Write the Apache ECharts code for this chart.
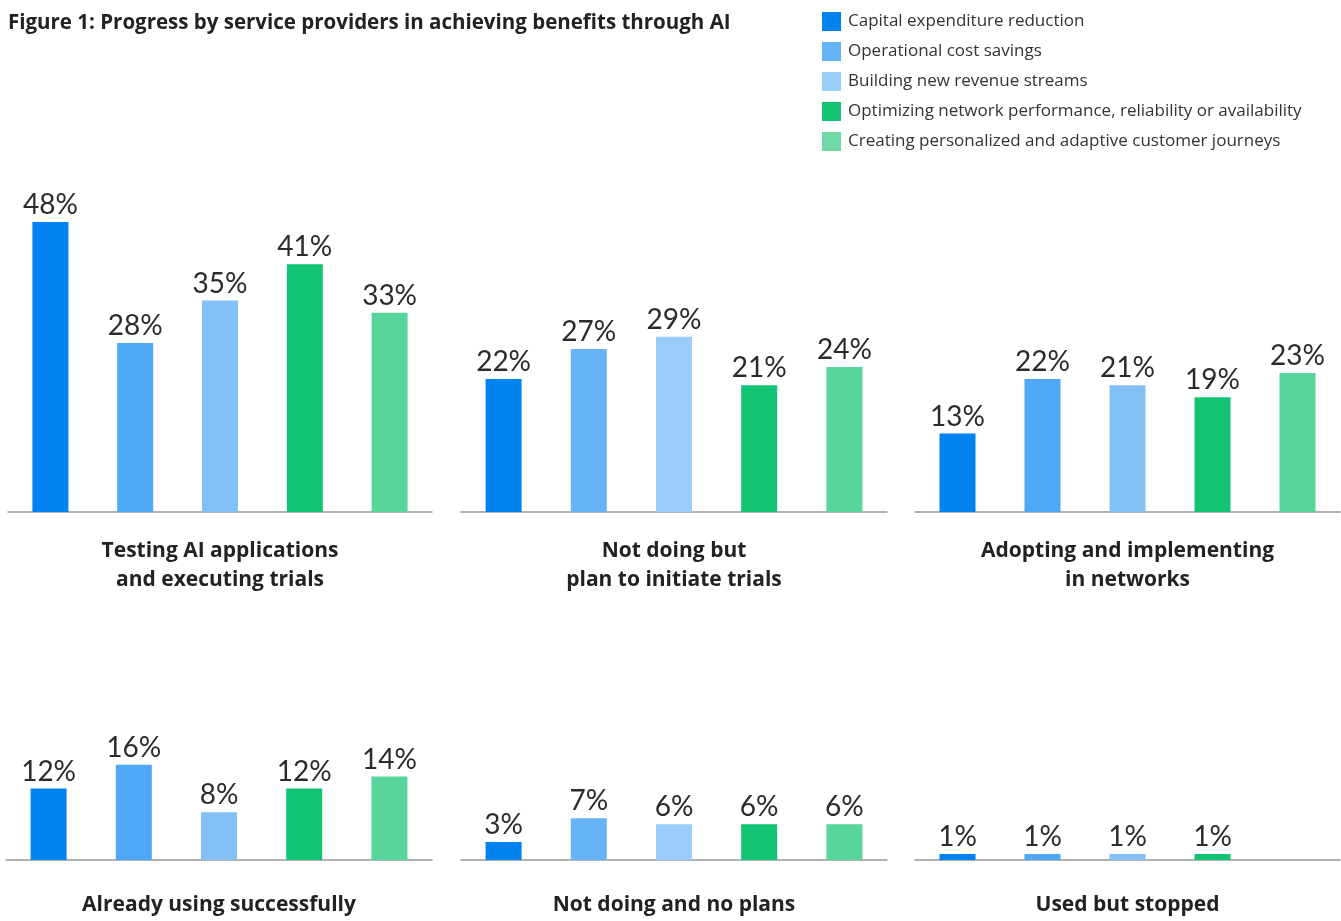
<!DOCTYPE html>
<html>
<head>
<meta charset="utf-8">
<script src="https://cdn.jsdelivr.net/npm/echarts@6/dist/echarts.min.js"></script>
<style>
html,body{margin:0;padding:0;background:#fff;overflow:hidden;}
#chart{width:1341px;height:921px;}
</style>
</head>
<body>
<div id="chart"></div>
<script>
// ---- data ----
var panels = [
  'Testing AI applications\nand executing trials',
  'Not doing but\nplan to initiate trials',
  'Adopting and implementing\nin networks',
  'Already using successfully',
  'Not doing and no plans',
  'Used but stopped'
];
var seriesNames = [
  'Capital expenditure reduction',
  'Operational cost savings',
  'Building new revenue streams',
  'Optimizing network performance, reliability or availability',
  'Creating personalized and adaptive customer journeys'
];
var capex    = [48, 22, 13, 12, 3, 1];
var opex     = [28, 27, 22, 16, 7, 1];
var revenue  = [35, 29, 21, 8, 6, 1];
var network  = [41, 21, 19, 12, 6, 1];
var journeys = [33, 24, 23, 14, 6, null];
var values = [capex, opex, revenue, network, journeys];

// ---- styles ----
var FONT = 'Lato';
var FONT2 = '"Open Sans"';
var paletteA = ['#0082f0', '#4ea8f5', '#82c0f6', '#12c373', '#58d59b'];
var paletteB = ['#0082f0', '#66b3f5', '#9acdfa', '#12c373', '#58d59b'];
var panelPalette = [paletteA, paletteB, paletteA, paletteA, paletteB, paletteA];
var legendColors = ['#0082f0', '#66b3f5', '#9bcdf9', '#12c373', '#6fd9a6'];
var gridLayout = [
  {left: 8,   width: 424, top: 210, height: 302},
  {left: 461, width: 426, top: 210, height: 302},
  {left: 915, width: 425, top: 210, height: 302},
  {left: 6,   width: 426, top: 562, height: 302},
  {left: 461, width: 426, top: 562, height: 302},
  {left: 915, width: 425, top: 562, height: 302}
];
var nameGaps = [25, 25, 25, 31, 31, 31];

var grids = [], xAxes = [], yAxes = [], series = [];
panels.forEach(function (pname, p) {
  grids.push(Object.assign({containLabel: false}, gridLayout[p]));
  xAxes.push({
    type: 'category', gridIndex: p, data: seriesNames,
    axisTick: {show: false}, axisLabel: {show: false},
    axisLine: {lineStyle: {color: '#999', width: 1.5}},
    name: pname, nameLocation: 'middle', nameGap: nameGaps[p],
    nameTextStyle: {fontFamily: FONT2, fontWeight: 'bold', fontSize: 21, color: '#222', lineHeight: 29}
  });
  yAxes.push({type: 'value', gridIndex: p, min: 0, max: 50, show: false, splitLine: {show: false}});
  seriesNames.forEach(function (sname, s) {
    var d = seriesNames.map(function (_, i) { return i === s ? values[s][p] : null; });
    series.push({
      type: 'bar', name: sname, xAxisIndex: p, yAxisIndex: p, stack: 'panel' + p,
      data: d, barWidth: 36,
      itemStyle: {color: panelPalette[p][s]},
      label: {show: true, position: 'top', distance: 3, formatter: '{c}%',
              fontFamily: FONT, fontSize: 28, color: '#2b2b2b'},
      emphasis: {disabled: true}
    });
  });
});

var chart = echarts.init(document.getElementById('chart'));
chart.setOption({
  animation: false,
  textStyle: {fontFamily: FONT},
  title: {
    text: 'Figure 1: Progress by service providers in achieving benefits through AI',
    left: 8, top: 13, padding: 0,
    textStyle: {fontFamily: FONT2, fontWeight: 'bold', fontSize: 20.5, color: '#222'}
  },
  legend: {
    orient: 'vertical', left: 822, top: 12, padding: 0,
    itemWidth: 19, itemHeight: 19, itemGap: 11, icon: 'rect',
    textStyle: {fontFamily: FONT2, fontSize: 17, color: '#333', padding: [0, 0, 0, 2]},
    data: seriesNames.map(function (n, i) { return {name: n, itemStyle: {color: legendColors[i]}}; })
  },
  grid: grids, xAxis: xAxes, yAxis: yAxes, series: series
});
</script>
</body>
</html>
